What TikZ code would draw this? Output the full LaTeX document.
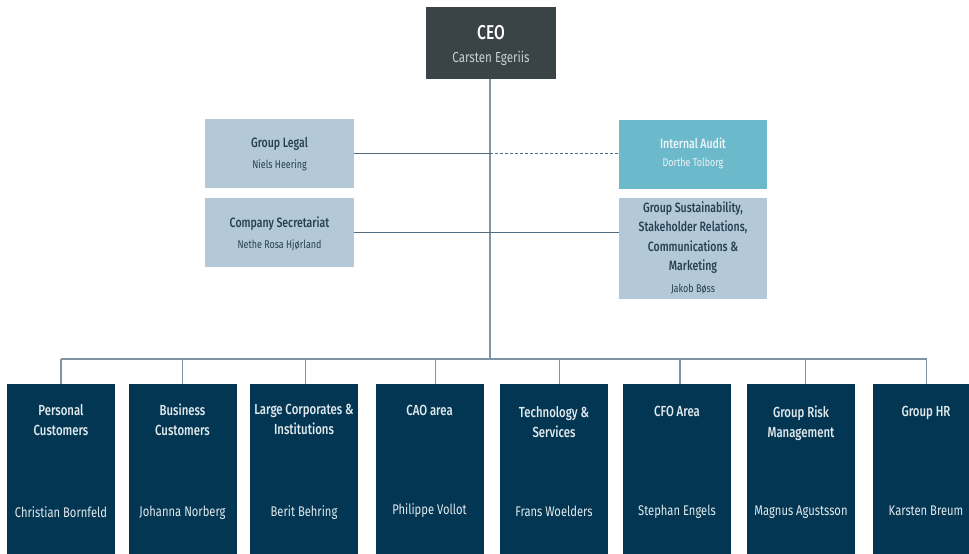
\documentclass[tikz,border=0pt]{standalone}
\usepackage{fontspec}
\setmainfont{Fira Sans}[FakeStretch=0.8]
\newfontfamily\titlefont{Fira Sans}[FakeStretch=0.78, UprightFont={* Medium}]
\definecolor{ceocol}{HTML}{3A4447}
\definecolor{ceoname}{HTML}{C9CFD2}
\definecolor{lightbox}{HTML}{B3C9D7}
\definecolor{lighttext}{HTML}{253F52}
\definecolor{auditcol}{HTML}{6CB9CC}
\definecolor{audittext}{HTML}{EEF6F8}
\definecolor{navy}{HTML}{023652}
\definecolor{navytext}{HTML}{E3EAEE}
\definecolor{linecol}{HTML}{7F95A6}
\definecolor{darkline}{HTML}{4F6B82}
\tikzset{
  ceobox/.style={fill=ceocol, draw=none, minimum width=130, minimum height=72, inner sep=0},
  sidebox/.style={fill=lightbox, draw=none, minimum width=149, minimum height=69, inner sep=0},
  auditbox/.style={fill=auditcol, draw=none, minimum width=148, minimum height=69, inner sep=0},
  unitbox/.style={fill=navy, draw=none, minimum width=108, minimum height=180, inner sep=0, anchor=north},
  sidetitle/.style={text=lighttext, font=\titlefont\fontsize{13.5}{19.6}\selectfont, align=center, inner sep=0},
  sidename/.style={text=lighttext, font=\fontsize{11.2}{12}\selectfont, align=center, inner sep=0},
  unittitle/.style={text=navytext, font=\titlefont\fontsize{14.6}{20}\selectfont, align=center, inner sep=0, anchor=north},
  unitname/.style={text=navytext, font=\fontsize{14}{20}\selectfont, align=center, inner sep=0},
  conn/.style={draw=linecol, line width=1.2pt},
  darkconn/.style={draw=darkline, line width=1.2pt}
}
\begin{document}
\begin{tikzpicture}[x=1pt,y=-1pt]
\useasboundingbox (0,0) rectangle (969,554);
% CEO
\node[ceobox] (ceo) at (491,43) {};
\node[text=white, font=\titlefont\fontsize{20}{22}\selectfont, inner sep=0] (ceot) at (491,33) {CEO};
\node[text=ceoname, font=\fontsize{14.5}{16}\selectfont, inner sep=0] (ceon) at (491,58) {Carsten Egeriis};
% staff boxes
\node[sidebox] (gl) at (279.5,153.5) {};
\node[sidetitle] at (279.5,144) {Group Legal};
\node[sidename] at (279.5,165) {Niels Heering};
\node[sidebox] (cs) at (279.5,232.5) {};
\node[sidetitle] at (279.5,224) {Company Secretariat};
\node[sidename] at (279.5,245) {Nethe Rosa Hjørland};
\node[auditbox] (ia) at (693,154.5) {};
\node[sidetitle, text=audittext] at (693,143) {Internal Audit};
\node[sidename, text=audittext] at (693,163) {Dorthe Tolborg};
\node[sidebox, minimum width=148, minimum height=101] (gs) at (693,248.5) {};
\node[sidetitle] at (693,237.5) {Group Sustainability,\\Stakeholder Relations,\\Communications \&\\Marketing};
\node[sidename] at (693,289) {Jakob Bøss};
% trunk and bus
\coordinate (trunk) at (490,79);
\coordinate (busL) at (61,359);
\coordinate (busR) at (927,359);
\coordinate (busM) at (490,359);
\draw[conn] (trunk) -- (busM);
\draw[conn] (busL) -- (busR);
\draw[darkconn] (gl.east) -- (gl.east -| trunk);
\draw[darkconn, dashed, dash pattern=on 3pt off 2pt] (gl.east -| trunk) -- (gl.east -| ia.west);
\draw[darkconn] (cs.east) -- (cs.east -| gs.west);
% units
\node[unitbox] (u1) at (61,384) {};
\node[unitbox] (u2) at (182.5,384) {};
\node[unitbox] (u3) at (303.5,384) {};
\node[unitbox] (u4) at (429.5,384) {};
\node[unitbox] (u5) at (553.5,384) {};
\node[unitbox] (u6) at (677,384) {};
\node[unitbox] (u7) at (800.5,384) {};
\node[unitbox] (u8) at (926.5,384) {};
\draw[conn] (u1.north) -- (u1.north |- busL);
\draw[conn] (u2.north) -- (u2.north |- busL);
\draw[conn] ([xshift=2]u3.north) -- ([xshift=2]u3.north |- busL);
\draw[conn] ([xshift=6]u4.north) -- ([xshift=6]u4.north |- busL);
\draw[conn] ([xshift=6]u5.north) -- ([xshift=6]u5.north |- busL);
\draw[conn] ([xshift=3]u6.north) -- ([xshift=3]u6.north |- busL);
\draw[conn] ([xshift=5]u7.north) -- ([xshift=5]u7.north |- busL);
\draw[conn] (u8.north) -- (u8.north |- busL);
\node[unittitle] at (61,404) {Personal\\Customers};
\node[unittitle] at (182.5,404) {Business\\Customers};
\node[unittitle] at (304,404) {Large Corporates \&\\Institutions};
\node[unittitle] at (429.5,405) {CAO area};
\node[unittitle] at (554,406) {Technology \&\\Services};
\node[unittitle] at (677,406) {CFO Area};
\node[unittitle] at (801,406) {Group Risk\\Management};
\node[unittitle] at (926,406) {Group HR};
\node[unitname] at (61,512) {Christian Bornfeld};
\node[unitname] at (182.5,513) {Johanna Norberg};
\node[unitname] at (304,513) {Berit Behring};
\node[unitname] at (429.5,511) {Philippe Vollot};
\node[unitname] at (554,511) {Frans Woelders};
\node[unitname] at (677,512) {Stephan Engels};
\node[unitname] at (801,512) {Magnus Agustsson};
\node[unitname] at (926,511) {Karsten Breum};
\end{tikzpicture}
\end{document}
